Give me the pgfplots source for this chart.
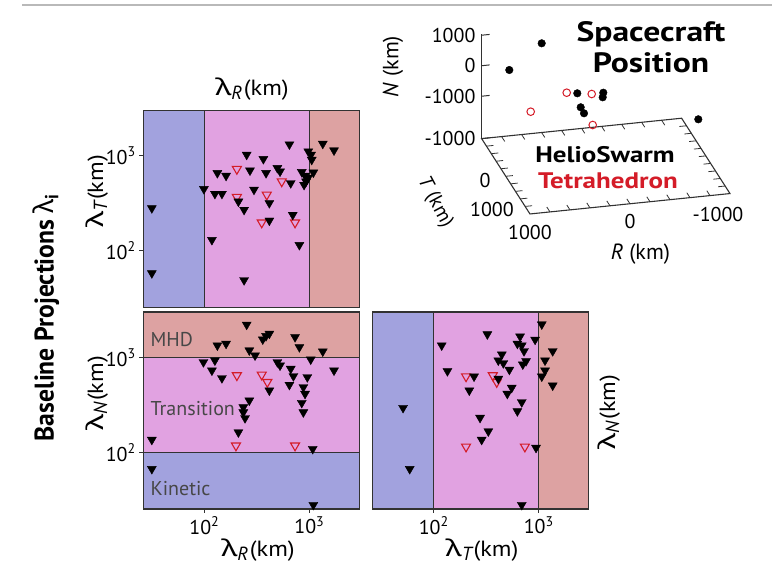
\documentclass[border=0pt]{standalone}
\usepackage{fontspec}
\setmainfont{PT Sans}
\newfontfamily\grk{Noto Sans}
\newfontfamily\grkw[FakeStretch=1.35]{Noto Sans}
\newfontfamily\cond[FakeStretch=0.95]{PT Sans}
\newfontfamily\wide[FakeStretch=1.2]{PT Sans}
\newfontfamily\labf[FakeStretch=1.1]{PT Sans}
\usepackage{pgfplots}
\pgfplotsset{compat=1.18}
\definecolor{kin}{RGB}{162,162,222}
\definecolor{tra}{RGB}{225,162,225}
\definecolor{mhd}{RGB}{221,162,162}
\definecolor{tred}{RGB}{212,28,40}
\definecolor{frm}{RGB}{50,50,50}
\newcommand\lab[1]{{\grkw\fontsize{23}{24}\selectfont λ}\raisebox{-4pt}{\fontsize{19}{19}\selectfont\itshape #1}\,{\labf\fontsize{22}{24}\selectfont(km)}}
\begin{document}
\begin{tikzpicture}
\useasboundingbox (0,0) rectangle (772pt,571pt);
\draw[gray!55, line width=1.3pt] (22pt,566pt) -- (772pt,566pt);

% ---------------- top-left: lambda_R vs lambda_T
\begin{axis}[xmode=log, ymode=log, scale only axis, width=216pt, height=197pt,
    xmin=26.2, xmax=2992, ymin=25.35, ymax=3020,
    axis line style={line width=1.3pt, frm}, tick align=outside,
    major tick length=4pt, xminorticks=false, yminorticks=false,
    tick style={line width=1pt, frm},
    clip=false,
    tick label style={font=\fontsize{20}{22}\selectfont},
    axis on top,
  at={(143.3pt,263.7pt)}, anchor=south west,
  xtick=\empty, ytick={100,1000}, yticklabels={10\textsuperscript{2},10\textsuperscript{3}}, ytick pos=left]
\fill[kin] (axis cs:26.2,25.35) rectangle (axis cs:100,3020);
\fill[tra] (axis cs:100,25.35) rectangle (axis cs:1000,3020);
\fill[mhd] (axis cs:1000,25.35) rectangle (axis cs:2992,3020);
\draw[frm, line width=1pt] (axis cs:100,25.35) -- (axis cs:100,3020);
\draw[frm, line width=1pt] (axis cs:1000,25.35) -- (axis cs:1000,3020);
\addplot[only marks, mark=triangle, mark size=5.2pt, mark options={rotate=180, draw=tred, line width=1.1pt}] table {
204 726
546 537
204 368
393 389
352 198
731 198
};
\addplot[only marks, mark=triangle*, mark size=5.2pt, mark options={rotate=180, fill=black, draw=black}] table {
646 1321
1343 1343
1718 1143
977 1114
1038 1028
1054 910
253 1028
365 927
133 659
161 617
272 702
387 659
496 745
526 685
847 676
910 617
931 537
891 495
1092 668
665 516
99 447
126 398
147 398
297 440
211 330
239 270
416 318
416 208
695 239
118 130
31.6 281
31.6 58
239 49
804 115
973 588
};
\end{axis}

% ---------------- bottom-left: lambda_R vs lambda_N
\begin{axis}[xmode=log, ymode=log, scale only axis, width=216pt, height=197pt,
    xmin=26.2, xmax=2992, ymin=25.35, ymax=3020,
    axis line style={line width=1.3pt, frm}, tick align=outside,
    major tick length=4pt, xminorticks=false, yminorticks=false,
    tick style={line width=1pt, frm},
    clip=false,
    tick label style={font=\fontsize{20}{22}\selectfont},
    axis on top,
  at={(143.3pt,62pt)}, anchor=south west,
  xtick={100,1000}, xticklabels={10\textsuperscript{2},10\textsuperscript{3}},
  ytick={100,1000}, yticklabels={10\textsuperscript{2},10\textsuperscript{3}},
  xtick pos=left, ytick pos=left]
\fill[kin] (axis cs:26.2,25.35) rectangle (axis cs:2992,100);
\fill[tra] (axis cs:26.2,100) rectangle (axis cs:2992,1000);
\fill[mhd] (axis cs:26.2,1000) rectangle (axis cs:2992,3020);
\draw[frm, line width=1pt] (axis cs:26.2,100) -- (axis cs:2992,100);
\draw[frm, line width=1pt] (axis cs:26.2,1000) -- (axis cs:2992,1000);
\node[anchor=west, text=black!72, font=\fontsize{20}{22}\selectfont] at (axis cs:28.5,1535) {MHD};
\node[anchor=west, text=black!72, font=\fontsize{20}{22}\selectfont] at (axis cs:28.5,287) {Transition};
\node[anchor=west, text=black!72, font=\fontsize{20}{22}\selectfont] at (axis cs:28.5,42) {Kinetic};
\addplot[only marks, mark=triangle, mark size=5.2pt, mark options={rotate=180, draw=tred, line width=1.1pt}] table {
204 649
352 659
398 551
200 118
731 118
};
\addplot[only marks, mark=triangle*, mark size=5.2pt, mark options={rotate=180, fill=black, draw=black}] table {
253 2223
133 1343
161 1400
360 1555
387 1687
416 1786
731 1644
804 1289
1343 1161
268 1191
304 1054
98 895
126 933
118 731
147 607
496 895
526 826
665 762
705 637
646 516
1031 955
957 622
1718 731
877 488
910 415
416 450
847 333
877 265
268 353
235 300
235 265
244 230
211 163
31.6 136
1077 109
31.6 67
1092 28
};
\end{axis}

% ---------------- bottom-right: lambda_T vs lambda_N
\begin{axis}[xmode=log, ymode=log, scale only axis, width=216pt, height=197pt,
    xmin=26.2, xmax=2992, ymin=25.35, ymax=3020,
    axis line style={line width=1.3pt, frm}, tick align=outside,
    major tick length=4pt, xminorticks=false, yminorticks=false,
    tick style={line width=1pt, frm},
    clip=false,
    tick label style={font=\fontsize{20}{22}\selectfont},
    axis on top,
  at={(372.7pt,62pt)}, anchor=south west,
  xtick={100,1000}, xticklabels={10\textsuperscript{2},10\textsuperscript{3}},
  ytick=\empty, xtick pos=left]
\fill[kin] (axis cs:26.2,25.35) rectangle (axis cs:100,3020);
\fill[tra] (axis cs:100,25.35) rectangle (axis cs:1000,3020);
\fill[mhd] (axis cs:1000,25.35) rectangle (axis cs:2992,3020);
\draw[frm, line width=1pt] (axis cs:100,25.35) -- (axis cs:100,3020);
\draw[frm, line width=1pt] (axis cs:1000,25.35) -- (axis cs:1000,3020);
\addplot[only marks, mark=triangle, mark size=5.2pt, mark options={rotate=180, draw=tred, line width=1.1pt}] table {
203 632
365 649
398 551
203 115
738 115
};
\addplot[only marks, mark=triangle*, mark size=5.2pt, mark options={rotate=180, fill=black, draw=black}] table {
1069 2239
324 1758
664 1671
626 1400
689 1343
724 1169
923 1545
119 1343
1358 1169
445 1079
412 933
460 873
757 918
705 847
1148 933
525 745
1148 731
1069 632
135 720
242 632
412 598
1358 508
218 450
553 481
502 415
689 339
626 272
276 232
51 295
59 67
689 28
331 167
286 136
942 112
};
\end{axis}

% ---------------- 3D spacecraft positions
\begin{axis}[at={(605.8pt,477.8pt)}, anchor=origin,
  x={(-0.1pt,-0.0102pt)}, y={(0.02417pt,-0.03767pt)}, z={(0pt,0.0305pt)},
  hide axis, clip=false,
  xmin=-1000, xmax=1000, ymin=-1000, ymax=1000, zmin=-2390, zmax=1030]
\draw[frm, line width=1.1pt] (axis cs:1000,-1000,-2390) -- (axis cs:1000,1000,-2390)
  -- (axis cs:-1000,1000,-2390) -- (axis cs:-1000,-1000,-2390) -- cycle;
\draw[frm, line width=1.1pt] (axis cs:1000,-1000,-2390) -- (axis cs:1000,-1000,1030);
\pgfplotsinvokeforeach{1000,0,-1000,-2390}{
  \draw[frm, line width=1pt] (axis cs:1000,-1000,#1) -- (axis cs:920,-1000,#1);
}
\pgfplotsinvokeforeach{-800,-600,-400,-200,0,200,400,600,800}{
  \draw[frm, line width=0.8pt] (axis cs:1000,#1,-2390) -- (axis cs:930,#1,-2390);
  \draw[frm, line width=0.8pt] (axis cs:-1000,#1,-2390) -- (axis cs:-930,#1,-2390);
  \draw[frm, line width=0.8pt] (axis cs:#1,1000,-2390) -- (axis cs:#1,870,-2390);
  \draw[frm, line width=0.8pt] (axis cs:#1,-1000,-2390) -- (axis cs:#1,-870,-2390);
}
\node[font=\fontsize{20}{22}\selectfont, inner sep=1pt, anchor=east, xshift=-5pt] at (axis cs:1000,-1000,1000) {1000};
\node[font=\fontsize{20}{22}\selectfont, inner sep=1pt, anchor=east, xshift=-5pt] at (axis cs:1000,-1000,0) {0};
\node[font=\fontsize{20}{22}\selectfont, inner sep=1pt, anchor=east, xshift=-5pt] at (axis cs:1000,-1000,-1000) {-1000};
\node[font=\fontsize{20}{22}\selectfont, inner sep=1pt, anchor=east, xshift=-5pt] at (axis cs:1000,-1000,-2390) {-1000};
\node[font=\fontsize{20}{22}\selectfont, inner sep=1pt, anchor=east, xshift=-14pt, yshift=-4pt] at (axis cs:1000,0,-2390) {0};
\node[font=\fontsize{20}{22}\selectfont, inner sep=1pt, anchor=east, xshift=-15pt, yshift=4pt] at (axis cs:1000,1000,-2390) {1000};
\node[font=\fontsize{20}{22}\selectfont, inner sep=1pt, anchor=north, yshift=-10pt] at (axis cs:1000,1000,-2390) {1000};
\node[font=\fontsize{20}{22}\selectfont, inner sep=1pt, anchor=north, yshift=-9pt] at (axis cs:0,1000,-2390) {0};
\node[font=\fontsize{20}{22}\selectfont, inner sep=1pt, anchor=north, yshift=-12pt, xshift=-12pt] at (axis cs:-1000,1000,-2390) {-1000};
\addplot3[only marks, mark=o, mark size=3.8pt, mark options={draw=tred, line width=1pt}] coordinates {
(751,0,-355) (391,0,147) (141,0,21) (131,0,-999)
};
\addplot3[only marks, mark=*, mark size=3.8pt, black] coordinates {
(641,0,1850) (965,0,1083) (285,0,92) (25,0,25) (31,0,-124)
(251,0,-378) (218,0,-586) (-925,0,-1165)
};
\end{axis}

% ---------------- texts
\node[anchor=base] at (252pt,475pt) {\lab{R}};
\node[anchor=base, rotate=90] at (103pt,379.5pt) {\lab{T}};
\node[anchor=base, rotate=90] at (103pt,177.5pt) {\lab{N}};
\node[anchor=base] at (258pt,15pt) {\lab{R}};
\node[anchor=base] at (482pt,15pt) {\lab{T}};
\node[anchor=base, rotate=90] at (615pt,159pt) {\lab{N}};
\node[font=\cond\bfseries\fontsize{27}{30}\selectfont, rotate=90] at (46pt,253.5pt)
  {Baseline Projections {\grk\bfseries λ}\textsubscript{\bfseries i}};
\node[font=\wide\bfseries\fontsize{28}{31}\selectfont, align=center] at (651pt,523.5pt)
  {Spacecraft\\Position};
\node[font=\wide\bfseries\fontsize{22.5}{26}\selectfont] at (605pt,416pt) {HelioSwarm};
\node[font=\wide\bfseries\fontsize{22.5}{26}\selectfont, text=tred] at (608pt,390pt) {Tetrahedron};
\node[font=\fontsize{22}{24}\selectfont, rotate=90] at (393pt,504.5pt) {\textit{N} (km)};
\node[font=\fontsize{20}{22}\selectfont, inner sep=0pt, rotate=-62] at (435pt,369pt) {\textit{T} (km)};
\node[font=\fontsize{22}{24}\selectfont] at (640.5pt,317pt) {\textit{R} (km)};
\end{tikzpicture}
\end{document}
